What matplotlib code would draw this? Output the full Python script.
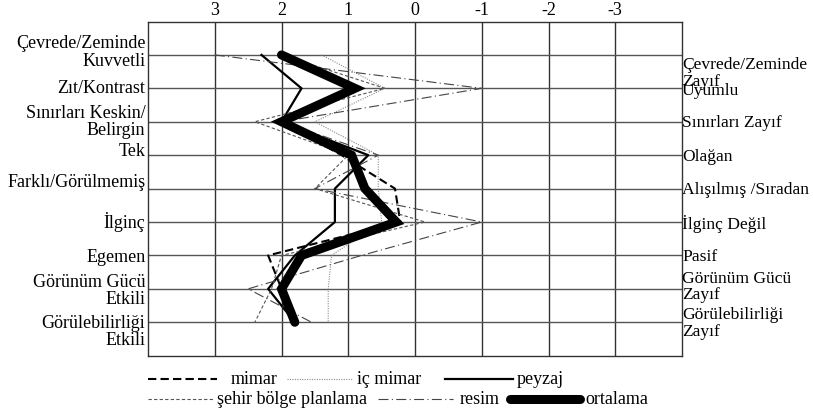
import matplotlib.pyplot as plt
from matplotlib.lines import Line2D

plt.rcParams['font.family'] = ['Liberation Serif', 'DejaVu Serif']

# scale positions (3 .. -3) and the 9 attribute rows
scale_ticks = [3, 2, 1, 0, -1, -2, -3]
rows = [1, 2, 3, 4, 5, 6, 7, 8, 9]

left_labels = ['Çevrede/Zeminde\nKuvvetli', 'Zıt/Kontrast', 'Sınırları Keskin/\nBelirgin', 'Tek',
               'Farklı/Görülmemiş', 'İlginç', 'Egemen', 'Görünüm Gücü\nEtkili',
               'Görülebilirliği\nEtkili']
right_labels = ['Çevrede/Zeminde\nZayıf', 'Uyumlu', 'Sınırları Zayıf', 'Olağan',
                'Alışılmış /Sıradan', 'İlginç Değil', 'Pasif', 'Görünüm Gücü\nZayıf',
                'Görülebilirliği\nZayıf']

# values
mimar    = [2.0, 0.9, 2.0, 1.1, 0.3, 0.22, 2.2, 2.0, 1.8]
ic_mimar = [1.4, 0.45, 1.5, 0.55, 0.55, 0.5, 1.25, 1.3, 1.3]
peyzaj   = [2.3, 1.7, 2.0, 0.7, 1.2, 1.2, 1.8, 2.2, 1.8]
sehir    = [2.0, 0.45, 2.4, 1.0, 1.5, -0.15, 2.0, 2.15, 2.4]
resim    = [3.0, -1.0, 2.0, 0.55, 1.5, -1.0, 0.8, 2.5, 1.55]
ortalama = [2.0, 0.9, 2.0, 0.95, 0.75, 0.28, 1.7, 2.0, 1.8]

# label placement (row units), tuned to the original layout
left_y = [0.90, 1.96, 2.98, 3.87, 4.80, 5.96, 7.02, 8.03, 9.26]
right_y = [1.52, 2.04, 3.01, 4.02, 5.01, 6.03, 7.01, 7.92, 9.01]

FS = 13
FS_RIGHT = 12.6

fig = plt.figure(figsize=(8.13, 4.14), dpi=100)
ax = fig.add_axes([148 / 813, 1 - 356.7 / 414, (682 - 148) / 813, (356.7 - 22.5) / 414])

ax.set_xlim(4, -4)
ax.set_ylim(10, 0)
for x in scale_ticks:
    ax.axvline(x, color='#333333', lw=1.0, zorder=1)
for y in rows:
    ax.axhline(y, color='#555555', lw=1.0, zorder=1)
for s in ax.spines.values():
    s.set_color('#333333')
    s.set_linewidth(1.0)

ax.xaxis.tick_top()
ax.set_xticks(scale_ticks)
ax.set_xticklabels([str(t) for t in scale_ticks], fontsize=FS)
ax.tick_params(axis='x', length=0, pad=2.5)
ax.set_yticks([])

styles = [
    (mimar, dict(color='black', lw=1.5, linestyle=(0, (4, 2)))),
    (ic_mimar, dict(color='#8a8a8a', lw=0.8, linestyle=(0, (1, 1.2)))),
    (peyzaj, dict(color='black', lw=1.6, linestyle='-')),
    (sehir, dict(color='#555555', lw=0.8, linestyle=(0, (3, 2)))),
    (resim, dict(color='#444444', lw=0.8, linestyle=(0, (9, 3, 1, 3)))),
    (ortalama, dict(color='black', lw=6.5, linestyle='-', solid_capstyle='round',
                    solid_joinstyle='miter')),
]
for vals, st in styles:
    ax.plot(vals, rows, zorder=3, **st)

for lab, y in zip(left_labels, left_y):
    ax.text(-0.005, y, lab, transform=ax.get_yaxis_transform(), ha='right', va='center',
            fontsize=FS, linespacing=1.05)
for lab, y in zip(right_labels, right_y):
    ax.text(1.0, y, lab, transform=ax.get_yaxis_transform(), ha='left', va='center',
            fontsize=FS_RIGHT, linespacing=1.05)

# legend drawn by hand in figure pixels
def legend_item(x0, x1, y, label, tx, st):
    yy = 1 - y / 414
    fig.add_artist(Line2D([x0 / 813, x1 / 813], [yy, yy], **st))
    fig.text(tx / 813, yy, label, ha='left', va='center', fontsize=FS)

legend_item(148, 217, 380, 'mimar', 231, styles[0][1])
legend_item(287, 353, 380, 'iç mimar', 357, styles[1][1])
legend_item(445, 513, 380, 'peyzaj', 517, styles[2][1])
legend_item(148, 213, 400, 'şehir bölge planlama', 217, styles[3][1])
legend_item(378, 453, 400, 'resim', 460, styles[4][1])
legend_item(510, 580, 400, 'ortalama', 585, styles[5][1])

fig.savefig('out.png', dpi=100)
